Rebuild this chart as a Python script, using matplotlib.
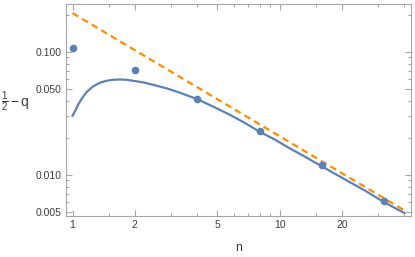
import matplotlib
matplotlib.use("Agg")
import matplotlib.pyplot as plt
from matplotlib.ticker import FixedLocator, FixedFormatter, NullFormatter

plt.rcParams['font.family'] = ['Liberation Sans', 'DejaVu Sans']
plt.rcParams['mathtext.fontset'] = 'custom'
plt.rcParams['mathtext.rm'] = 'Liberation Sans'
plt.rcParams['mathtext.it'] = 'Liberation Sans:italic'

# points (n, 1/2 - q)
pts_n = [1, 2, 4, 8, 16, 32]
pts_v = [0.108, 0.0705, 0.0416, 0.0229, 0.01205, 0.00618]

# blue curve
curve_n = [1.0, 1.026, 1.064, 1.105, 1.168, 1.257, 1.355, 1.459, 1.571,
           1.693, 1.823, 1.963, 2.194, 2.45, 2.84, 3.24, 4.0, 4.8, 5.76,
           6.8, 8.0, 9.5, 11.2, 13.5, 16.0, 21.1, 26.0, 32.0, 40.0]
curve_v = [0.0302, 0.0327, 0.0371, 0.0412, 0.0470, 0.0523, 0.0560, 0.0581,
           0.0592, 0.0595, 0.0592, 0.0581, 0.0564, 0.0539, 0.0505, 0.0470,
           0.0412, 0.0357, 0.0307, 0.0264, 0.0224, 0.0193, 0.0164, 0.0138,
           0.0117, 0.0090, 0.0074, 0.00598, 0.00490]

# orange dashed asymptote
line_n = [1.0, 40.0]
line_v = [0.206, 0.00515]

xt_major = [1, 2, 5, 10, 20]
xt_minor = [1.5, 3, 4, 6, 7, 8, 9, 15, 30, 40]
yt_major = [0.005, 0.01, 0.05, 0.1]
yt_labels = ['0.005', '0.010', '0.050', '0.100']
yt_minor = [0.006, 0.007, 0.008, 0.009, 0.02, 0.03, 0.04,
            0.06, 0.07, 0.08, 0.09, 0.2]

blue = '#5E81B5'
orange = '#FF8C00'
frame = '#A6A6A6'
text = '#3C3C3C'

fig = plt.figure(figsize=(4.15, 2.57), dpi=100)
ax = fig.add_axes([0.159, 0.160, 0.831, 0.825])

ax.plot(curve_n, curve_v, color=blue, lw=1.6, solid_joinstyle='round')
ax.plot(line_n, line_v, color=orange, lw=1.6, linestyle=(0, (3, 2)))
ax.plot(pts_n, pts_v, 'o', color=blue, ms=5.5, mec='none')

ax.set_xscale('log')
ax.set_yscale('log')
ax.set_xlim(0.93, 43)
ax.set_ylim(0.00464, 0.245)

ax.xaxis.set_major_locator(FixedLocator(xt_major))
ax.xaxis.set_major_formatter(FixedFormatter([str(v) for v in xt_major]))
ax.xaxis.set_minor_locator(FixedLocator(xt_minor))
ax.xaxis.set_minor_formatter(NullFormatter())
ax.yaxis.set_major_locator(FixedLocator(yt_major))
ax.yaxis.set_major_formatter(FixedFormatter(yt_labels))
ax.yaxis.set_minor_locator(FixedLocator(yt_minor))
ax.yaxis.set_minor_formatter(NullFormatter())

ax.tick_params(which='both', direction='in', top=True, right=True,
               color=frame, labelcolor=text, labelsize=7.5, width=0.8)
ax.tick_params(which='major', length=4, pad=3)
ax.tick_params(which='minor', length=2)
for s in ax.spines.values():
    s.set_color(frame)
    s.set_linewidth(0.8)

ax.set_xlabel('n', fontsize=9, color=text)
ax.xaxis.set_label_coords(0.50, -0.125)
ax.set_ylabel(r'$\frac{1}{2}-\mathrm{q}$', fontsize=10, color=text, rotation=0)
ax.yaxis.set_label_coords(-0.148, 0.48)

fig.savefig('out.png', dpi=100)
